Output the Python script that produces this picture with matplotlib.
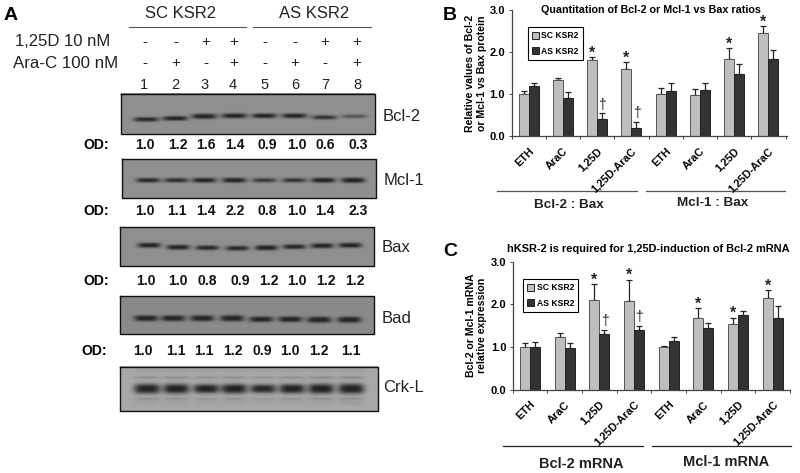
import numpy as np
import matplotlib
matplotlib.use('Agg')
import matplotlib.pyplot as plt
from matplotlib.patches import Patch

plt.rcParams['font.family'] = ['Liberation Sans', 'DejaVu Sans']

# panel A
lane_numbers = ['1', '2', '3', '4', '5', '6', '7', '8']
row_125d = ['-', '-', '+', '+', '-', '-', '+', '+']
row_arac = ['-', '+', '-', '+', '-', '+', '-', '+']
od_bcl2 = ['1.0', '1.2', '1.6', '1.4', '0.9', '1.0', '0.6', '0.3']
od_mcl1 = ['1.0', '1.1', '1.4', '2.2', '0.8', '1.0', '1.4', '2.3']
od_bax = ['1.0', '1.0', '0.8', '0.9', '1.2', '1.0', '1.2', '1.2']
od_bad = ['1.0', '1.1', '1.1', '1.2', '0.9', '1.0', '1.2', '1.1']

# relative band strength per lane, read by eye
band_bcl2 = [0.8, 0.85, 1.05, 1.0, 0.9, 0.9, 0.7, 0.45]
band_mcl1 = [0.8, 0.75, 0.85, 1.0, 0.65, 0.7, 1.0, 1.1]
band_bax = [0.9, 0.9, 0.8, 0.8, 1.0, 0.8, 0.9, 0.9]
band_bad = [0.95, 0.95, 1.0, 1.05, 0.85, 0.85, 1.05, 1.05]
band_crkl = [1.1, 1.1, 0.9, 1.05, 0.8, 1.0, 1.15, 1.2]

# panel B
categories = ['ETH', 'AraC', '1,25D', '1,25D-AraC', 'ETH', 'AraC', '1,25D', '1,25D-AraC']
b_sc = [1.0, 1.33, 1.8, 1.6, 1.0, 0.98, 1.84, 2.45]
b_as = [1.18, 0.9, 0.4, 0.2, 1.07, 1.09, 1.47, 1.83]
b_sc_err = [0.07, 0.04, 0.08, 0.16, 0.15, 0.13, 0.26, 0.17]
b_as_err = [0.09, 0.15, 0.14, 0.14, 0.2, 0.18, 0.25, 0.22]
b_sc_star = [2, 3, 6, 7]
b_as_dagger = [2, 3]

# panel C
c_sc = [1.0, 1.24, 2.11, 2.09, 1.0, 1.67, 1.53, 2.14]
c_as = [1.0, 0.98, 1.3, 1.4, 1.15, 1.44, 1.74, 1.67]
c_sc_err = [0.1, 0.09, 0.37, 0.49, 0.03, 0.25, 0.16, 0.2]
c_as_err = [0.12, 0.12, 0.11, 0.1, 0.09, 0.13, 0.1, 0.3]
c_sc_star = [2, 3, 5, 6, 7]
c_as_dagger = [2, 3]

W, H = 800, 473
LIGHT = '#bebebe'
DARK = '#333333'
EDGE = '#555555'


def blot(ax, box, lanes_x, lanes_y, strength, width, thick, bg, extra=False):
    x0, x1, y0, y1 = box
    xx, yy = np.meshgrid(np.arange(x0, x1, 0.5), np.arange(y0, y1, 0.5))
    img = np.full(xx.shape, bg)
    for cx, cy, s in zip(lanes_x, lanes_y, strength):
        px = np.exp(-np.abs((xx - cx) / (width / 2)) ** 4)
        py = np.exp(-np.abs((yy - cy) / (thick * (0.55 + 0.45 * s))) ** 2.6)
        img = img - (bg - 0.13) * min(s * 1.2, 1.0) * px * py
        if extra:
            for dy, a in [(-11, 0.09), (-18, 0.04), (10, 0.08), (14, 0.04)]:
                py2 = np.exp(-((yy - cy - dy) / 1.6) ** 2)
                img = img - a * s * px * py2
    ax.imshow(img, extent=(x0, x1, y1, y0), cmap='gray', vmin=0, vmax=1,
              aspect='auto', interpolation='bilinear', zorder=1)
    ax.plot([x0, x1, x1, x0, x0], [y0, y0, y1, y1, y0], color='#111111', lw=1.0, zorder=2)


def lane_text(ax, xs, y, labels, **kw):
    for x, label in zip(xs, labels):
        ax.text(x, y, label, ha='center', va='center', **kw)


def bar_panel(fig, box, ylabel, title, title_xy, title_size, sc, as_, sc_err, as_err, stars, daggers,
              first_px, step_px, bar_px, legend_xy):
    left, right, top, bottom = box
    ax = fig.add_axes([left / W, 1 - bottom / H, (right - left) / W, (bottom - top) / H])
    ax.patch.set_alpha(0)
    x = np.arange(len(categories))
    bw = bar_px / step_px
    ax.bar(x - bw / 2, sc, bw, color=LIGHT, edgecolor=EDGE, linewidth=0.7, zorder=2)
    ax.bar(x + bw / 2, as_, bw, color=DARK, edgecolor='#222222', linewidth=0.7, zorder=2)
    ax.errorbar(x - bw / 2, sc, yerr=[np.zeros(8), sc_err], fmt='none', ecolor='#222222',
                elinewidth=0.9, capsize=2.4, capthick=0.9, zorder=1)
    ax.errorbar(x + bw / 2, as_, yerr=[np.zeros(8), as_err], fmt='none', ecolor='#222222',
                elinewidth=0.9, capsize=2.4, capthick=0.9, zorder=1)
    for i in stars:
        ax.text(i - bw / 2, sc[i] + sc_err[i] + 0.09, '*', ha='center', va='center',
                fontsize=11.5, fontweight='bold', color='#222222')
    for i in daggers:
        ax.text(i + bw / 2, as_[i] + as_err[i] + 0.2, '†', ha='center', va='center',
                fontsize=10, color='#222222')
    ax.set_xlim(-(first_px - left) / step_px, (right - first_px) / step_px)
    ax.set_ylim(0, 3)
    ax.set_yticks([0, 1, 2, 3])
    ax.set_yticklabels(['0.0', '1.0', '2.0', '3.0'], fontsize=8, fontweight='bold')
    ax.set_xticks(x)
    ax.set_xticks(np.append(x - 0.5, 7.5), minor=True)
    ax.set_xticklabels(categories, rotation=45, ha='right', rotation_mode='anchor',
                       fontsize=7.8, fontweight='bold')
    ax.tick_params(axis='both', which='both', length=2.5, width=0.7, color='#444444', pad=2)
    ax.tick_params(axis='x', which='major', length=0, pad=7)
    ax.spines['top'].set_visible(False)
    ax.spines['right'].set_visible(False)
    for s in ['left', 'bottom']:
        ax.spines[s].set_color('#444444')
        ax.spines[s].set_linewidth(0.9)
    fig.text(title_xy[0] / W, 1 - title_xy[1] / H, title, ha='center', va='center',
             fontsize=title_size, fontweight='bold')
    fig.text(ylabel[1] / W, 1 - ylabel[2] / H, ylabel[0], ha='center', va='center', rotation=90,
             fontsize=7.6, fontweight='bold', linespacing=ylabel[3])
    handles = [Patch(facecolor=LIGHT, edgecolor='#222222', linewidth=0.7, label='SC KSR2'),
               Patch(facecolor=DARK, edgecolor='#222222', linewidth=0.7, label='AS KSR2')]
    leg = ax.legend(handles=handles, loc='upper left', bbox_to_anchor=(legend_xy[0] / W, 1 - legend_xy[1] / H),
                    bbox_transform=fig.transFigure, fontsize=6.2, handlelength=0.8, handleheight=0.8,
                    handletextpad=0.3, labelspacing=0.75, borderpad=0.5, borderaxespad=0,
                    frameon=True, fancybox=False, edgecolor='black', framealpha=1)
    leg.get_frame().set_linewidth(0.8)
    for t in leg.get_texts():
        t.set_fontweight('bold')
    return ax


fig = plt.figure(figsize=(W / 100, H / 100), dpi=100)
ax0 = fig.add_axes([0, 0, 1, 1])
ax0.set_xlim(0, W)
ax0.set_ylim(H, 0)
ax0.axis('off')

ax0.text(11, 15, 'A', fontsize=14, fontweight='bold', ha='center', va='center')
ax0.text(181, 13, 'SC KSR2', fontsize=12, ha='center', va='center', color='#222222')
ax0.text(314, 13, 'AS KSR2', fontsize=12, ha='center', va='center', color='#222222')
ax0.plot([129, 246], [27, 27], color='#555555', lw=0.8)
ax0.plot([253, 371], [27, 27], color='#555555', lw=0.8)
ax0.text(63, 42, '1,25D 10 nM', fontsize=12, ha='center', va='center', color='#222222')
ax0.text(66, 63, 'Ara-C 100 nM', fontsize=12.2, ha='center', va='center', color='#222222')

top_x = [145, 176, 206, 234, 265, 295, 325, 357]
lane_text(ax0, top_x, 42, row_125d, fontsize=11, color='#222222')
lane_text(ax0, top_x, 63, row_arac, fontsize=11, color='#222222')
lane_text(ax0, [144, 175, 205, 233, 265, 295, 325, 357], 85, lane_numbers, fontsize=10.5, color='#222222')

blot(ax0, (121, 375, 94, 134), [146, 175, 204, 234, 264, 294, 324, 354],
     [119.5, 118.5, 116.5, 116, 116, 116, 117.5, 116.5], band_bcl2, 25, 2.4, 0.56)
blot(ax0, (122, 376, 159, 198), [148, 176, 204, 234, 264, 294, 323, 353],
     [180] * 8, band_mcl1, 24, 2.5, 0.56)
blot(ax0, (120, 374, 227, 266), [149, 178, 207, 237, 266, 294, 322, 350],
     [245, 247, 247.5, 248, 247.5, 246.5, 245.5, 245], band_bax, 23, 2.6, 0.56)
blot(ax0, (120, 374, 296, 334), [146, 173, 202, 232, 261, 290, 319, 349],
     [318, 318, 318, 318, 319, 319, 319.5, 319.5], band_bad, 24, 3.0, 0.54)
blot(ax0, (120, 378, 367, 411), [147, 176, 206, 234, 263, 292, 321, 351],
     [389] * 8, band_crkl, 26, 4.6, 0.66, extra=True)

for name, x, y in [('Bcl-2', 402, 116), ('Mcl-1', 404, 180), ('Bax', 396, 247),
                   ('Bad', 397, 318), ('Crk-L', 404, 387)]:
    ax0.text(x, y, name, fontsize=12, ha='center', va='center', color='#222222')

od_rows = [(145, od_bcl2, [145, 178, 206, 235, 267, 297, 325, 358], 96),
           (211, od_mcl1, [145, 177, 206, 235, 267, 297, 325, 358], 96),
           (281, od_bax, [146, 178, 207, 240, 269, 297, 326, 355], 96.5),
           (351, od_bad, [143, 176, 204, 233, 262, 290, 319, 351], 94.5)]
for y, labels, xs, od_x in od_rows:
    ax0.text(od_x, y, 'OD:', fontsize=10, fontweight='bold', ha='center', va='center')
    lane_text(ax0, xs, y, labels, fontsize=10, fontweight='bold', color='#111111')

# panel B
ax0.text(450, 15, 'B', fontsize=14, fontweight='bold', ha='center', va='center')
bar_panel(fig, (511.5, 787, 10, 136), ('Relative values of Bcl-2\nor Mcl-1 vs Bax protein', 476, 73, 1.25),
          'Quantitation of Bcl-2 or Mcl-1 vs Bax ratios', (651, 10), 7.75,
          b_sc, b_as, b_sc_err, b_as_err, b_sc_star, b_as_dagger, 528.3, 34.3, 10, (527.5, 27))
ax0.plot([497, 637], [191, 191], color='#555555', lw=0.9)
ax0.plot([646, 785], [191, 191], color='#555555', lw=0.9)
ax0.text(569, 205, 'Bcl-2 : Bax', fontsize=9.7, fontweight='bold', ha='center', va='center', color='#222222')
ax0.text(713, 203, 'Mcl-1 : Bax', fontsize=9.7, fontweight='bold', ha='center', va='center', color='#222222')

# panel C
ax0.text(450, 251, 'C', fontsize=14, fontweight='bold', ha='center', va='center')
bar_panel(fig, (512.7, 790, 261.7, 389.7), ('Bcl-2 or Mcl-1 mRNA\nrelative expression', 476.5, 325, 1.1),
          'hKSR-2 is required for 1,25D-induction of Bcl-2 mRNA', (648, 249), 7.9,
          c_sc, c_as, c_sc_err, c_as_err, c_sc_star, c_as_dagger, 530, 35, 10.2, (523, 279))
ax0.plot([503, 643], [446, 446], color='#222222', lw=0.9)
ax0.plot([652, 791], [446, 446], color='#222222', lw=0.9)
ax0.text(581, 464, 'Bcl-2 mRNA', fontsize=10.5, fontweight='bold', ha='center', va='center', color='#222222')
ax0.text(726, 462, 'Mcl-1 mRNA', fontsize=10.5, fontweight='bold', ha='center', va='center', color='#222222')

fig.savefig('out.png', dpi=100)
